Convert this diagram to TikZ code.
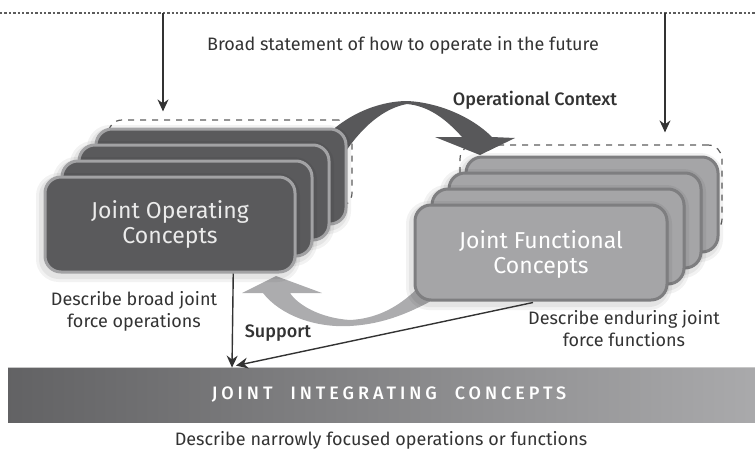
\documentclass[tikz,border=0pt]{standalone}
\usepackage{fontspec}
\setmainfont{Fira Sans}
\newfontfamily\medfont{Fira Sans Medium}
\usetikzlibrary{arrows.meta,calc,positioning}
\definecolor{opfill}{HTML}{5A5A5C}
\definecolor{opedge}{HTML}{A2A2A4}
\definecolor{fnfill}{HTML}{A5A5A7}
\definecolor{fnedge}{HTML}{7E7E80}
\definecolor{inkgray}{HTML}{333333}
\def\dx{17}
\def\dy{-16}

\begin{document}
\begin{tikzpicture}
    [
        x=0.5pt, y=-0.5pt,
        every node/.style={font=\fontsize{9}{11}\selectfont, text=inkgray},
        halo/.style={preaction={draw=black, opacity=0.05, line width=7pt,
                transform canvas={shift={(-1pt,-1.5pt)}}},
            preaction={draw=black, opacity=0.06, line width=4pt,
                transform canvas={shift={(-1pt,-1.5pt)}}}},
        opbox/.style={halo, rounded corners=8pt, fill=opfill, draw=opedge, line width=1.5pt,
            minimum width=125pt, minimum height=47.5pt},
        fnbox/.style={halo, rounded corners=8pt, fill=fnfill, draw=fnedge, line width=1.5pt,
            minimum width=126pt, minimum height=47.5pt},
        boxtext/.style={font=\fontsize{11.5}{12.5}\selectfont, align=center},
        tag/.style={font=\fontsize{9}{11}\selectfont\medfont},
        groupbox/.style={rounded corners=7pt, draw=inkgray!80, dashed, line width=0.6pt},
        topline/.style={draw=inkgray!80, line width=0.6pt, dash pattern=on 1.2pt off 1pt},
        link/.style={draw=inkgray, line width=0.7pt, -{Stealth[length=6pt,width=5.5pt]}},
        barbox/.style={left color=opfill!95!white, right color=fnfill!95!white,
            minimum width=373.5pt, minimum height=27pt, inner sep=0pt}
    ]
%    \draw[help lines, step=50] (0,0) grid (755,456);
    \useasboundingbox (0,0) rectangle (755,456);

    % top line and statement
    \draw[topline] (0,13) -- (755,13);
    \coordinate (topL) at (163,13);
    \coordinate (topR) at (665,13);
    \node (broad) at (403,45) {Broad statement of how to operate in the future};

    % dashed groups
    \node[groupbox, minimum width=122pt, minimum height=43.5pt] (opgroup) at (230,163.5) {};
    \node[groupbox, minimum width=131pt, minimum height=44pt] (fngroup) at (591,189) {};
    \draw[link] (topL) -- ($(opgroup.north -| topL)+(0,-8)$);
    \draw[link] (topR) -- ($(fngroup.north -| topR)+(0,-12)$);

    % operational context arrow
    \fill[opfill!98!black] (322,140) .. controls (350,110) and (385,101) .. (407,101)
        .. controls (435,102) and (470,115) .. (492,137) -- (515,138) -- (480,155)
        -- (435,137) -- (462,137) .. controls (445,118) and (428,106) .. (407,104)
        .. controls (385,108) and (362,125) .. (340,160) -- cycle;
    \node[tag] (opctx) at (535,100) {Operational Context};

    % support arrow
    \fill[fnfill!92!white] (440,262) .. controls (412,300) and (385,318) .. (350,320)
        .. controls (320,318) and (298,305) .. (290,293) -- (322,293) -- (276,276)
        -- (242,293) -- (263,293) .. controls (280,315) and (315,328) .. (350,326)
        .. controls (385,324) and (412,312) .. (440,296) -- cycle;
    \node[tag] (support) at (278,333) {Support};

    % stacks
    \foreach \k in {3,2,1}
    {
        \node[opbox] at (170+\k*\dx, 224.5+\k*\dy) {};
        \node[fnbox] at (541+\k*\dx, 252.5+\k*\dy) {};
    }
    \node[opbox] (joc) at (170,224.5) {};
    \node[boxtext, text=white!92!black] at (joc.center) {Joint Operating\\Concepts};
    \node[fnbox] (jfc) at (541,252.5) {};
    \node[boxtext, text=white] at ($(jfc.center)+(0,2)$) {Joint Functional\\Concepts};

    \node[align=center] (jocnote) at (134,311) {Describe broad joint\\force operations};
    \node[align=center] (jfcnote) at (624,329) {Describe enduring joint\\force functions};

    % integrating bar
    \node[barbox] (jic) at (381.5,395)
        {\hspace*{7.5pt}\medfont\addfontfeature{LetterSpace=22}\color{white}\fontsize{9}{11}\selectfont
         JOINT\hspace{9pt}INTEGRATING\hspace{9pt}CONCEPTS};
    \draw[white!78!black, line width=0.8pt] (jic.north west) -- (jic.north east);
    \node (narrow) at (381,440) {Describe narrowly focused operations or functions};

    \draw[link] ($(joc.south west)!0.75!(joc.south east)$) -- (jic.north -| 232,0);
    \draw[link] ($(jfc.south)+(-8,1)$) -- ($(jic.north -| 236,0)+(0,-2)$);
\end{tikzpicture}
\end{document}
